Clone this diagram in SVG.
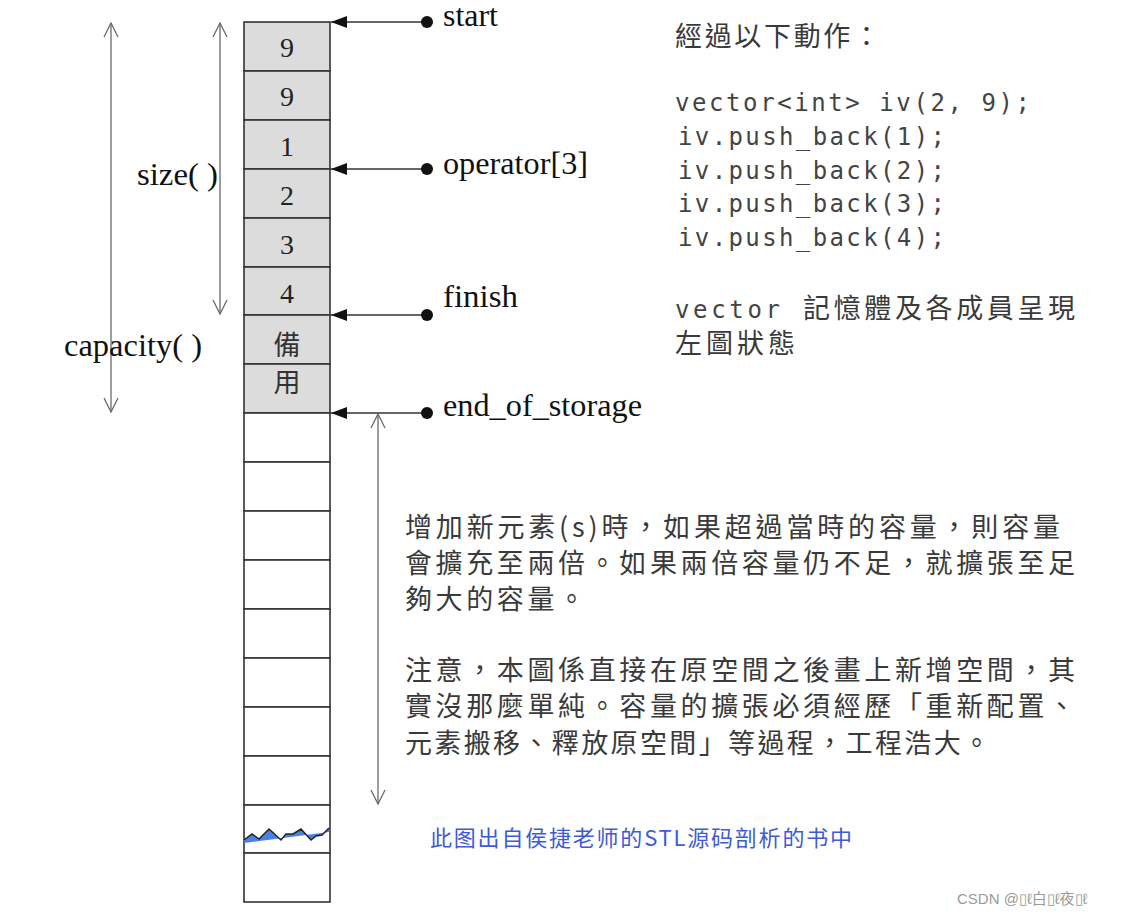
<svg xmlns="http://www.w3.org/2000/svg" width="1122" height="916" viewBox="0 0 1122 916">
<defs>
<style>
.cell{stroke:#333;stroke-width:1.6}
.used{fill:#dcdcdc}
.free{fill:#fff}
.num{font-family:"Liberation Serif",serif;font-size:28px;fill:#222;text-anchor:middle}
.cjkc{font-family:"Noto Sans CJK TC",sans-serif;font-size:27px;fill:#333;text-anchor:middle}
.lbl{font-family:"Liberation Serif",serif;font-size:31px;fill:#111}
.ptr{stroke:#333;stroke-width:1.6;fill:none}
.dim{stroke:#6a6a6a;stroke-width:1.3;fill:none}
.code{font-family:"DejaVu Sans Mono",monospace;font-size:24px;fill:#444}
.cjk{font-family:"Noto Sans CJK TC",sans-serif;font-size:27px;fill:#3a3a3a}
.blue{font-family:"Noto Sans CJK SC",sans-serif;font-size:22px;fill:#3d5bd6}
.wm{font-family:"Liberation Sans","Noto Sans CJK SC",sans-serif;font-size:15px;fill:#9a9a9a}
</style>
<marker id="tri" viewBox="0 0 16 12" refX="16" refY="6" markerWidth="16" markerHeight="12" markerUnits="userSpaceOnUse" orient="auto">
<path d="M0,0 L16,6 L0,12 Z" fill="#111"/>
</marker>
<marker id="vs" viewBox="0 0 16 16" refX="15" refY="8" markerWidth="16" markerHeight="16" markerUnits="userSpaceOnUse" orient="auto-start-reverse">
<path d="M1,1 L15,8 L1,15" fill="none" stroke="#6a6a6a" stroke-width="1.3"/>
</marker>
</defs>
<rect width="1122" height="916" fill="#fff"/>

<g id="vector-cells">
<rect class="cell used" x="244" y="22" width="86" height="49"/>
<rect class="cell used" x="244" y="71" width="86" height="49"/>
<rect class="cell used" x="244" y="120" width="86" height="49"/>
<rect class="cell used" x="244" y="169" width="86" height="49"/>
<rect class="cell used" x="244" y="218" width="86" height="49"/>
<rect class="cell used" x="244" y="267" width="86" height="48"/>
<rect class="cell used" x="244" y="315" width="86" height="49"/>
<rect class="cell used" x="244" y="364" width="86" height="49"/>
<rect class="cell free" x="244" y="413" width="86" height="49"/>
<rect class="cell free" x="244" y="462" width="86" height="49"/>
<rect class="cell free" x="244" y="511" width="86" height="49"/>
<rect class="cell free" x="244" y="560" width="86" height="49"/>
<rect class="cell free" x="244" y="609" width="86" height="49"/>
<rect class="cell free" x="244" y="658" width="86" height="49"/>
<rect class="cell free" x="244" y="707" width="86" height="49"/>
<rect class="cell free" x="244" y="756" width="86" height="49"/>
<rect class="cell free" x="244" y="805" width="86" height="48"/>
<rect class="cell free" x="244" y="853" width="86" height="49"/>
<text class="num" x="287" y="57">9</text>
<text class="num" x="287" y="106">9</text>
<text class="num" x="287" y="156">1</text>
<text class="num" x="287" y="205">2</text>
<text class="num" x="287" y="254">3</text>
<text class="num" x="287" y="303">4</text>
<text class="cjkc" x="287" y="355">備</text>
<text class="cjkc" x="287" y="392">用</text>
<polygon points="244,840 252,834 259,839 269,829 281,840 286,834 293,834 301,829 311,840 316,836 322,835 329,828 329,832 244,843" fill="#4a80e8"/>
<polyline points="244,840 252,834 259,839 269,829 281,840 286,834 293,834 301,829 311,840 316,836 322,835 329,828" fill="none" stroke="#222" stroke-width="1.5"/>
</g>

<g id="connectors">
<line class="ptr" x1="427" y1="22" x2="331" y2="22" marker-end="url(#tri)"/>
<line class="ptr" x1="427" y1="169" x2="331" y2="169" marker-end="url(#tri)"/>
<line class="ptr" x1="427" y1="315" x2="331" y2="315" marker-end="url(#tri)"/>
<line class="ptr" x1="427" y1="413" x2="331" y2="413" marker-end="url(#tri)"/>
<circle cx="427" cy="22" r="6" fill="#111"/>
<circle cx="427" cy="169" r="6" fill="#111"/>
<circle cx="427" cy="315" r="6" fill="#111"/>
<circle cx="427" cy="413" r="6" fill="#111"/>
<line class="dim" x1="111" y1="23" x2="111" y2="412" marker-start="url(#vs)" marker-end="url(#vs)"/>
<line class="dim" x1="220" y1="23" x2="220" y2="314" marker-start="url(#vs)" marker-end="url(#vs)"/>
<line class="dim" x1="378" y1="414" x2="378" y2="804" marker-start="url(#vs)" marker-end="url(#vs)"/>
</g>

<g id="pointer-labels">
<text class="lbl" x="443" y="26" textLength="55" lengthAdjust="spacingAndGlyphs">start</text>
<text class="lbl" x="443" y="174" textLength="145" lengthAdjust="spacingAndGlyphs">operator[3]</text>
<text class="lbl" x="443" y="307" textLength="75" lengthAdjust="spacingAndGlyphs">finish</text>
<text class="lbl" x="443" y="416" textLength="199" lengthAdjust="spacingAndGlyphs">end_of_storage</text>
<text class="lbl" x="137" y="185" textLength="81" lengthAdjust="spacingAndGlyphs">size( )</text>
<text class="lbl" x="64" y="356" textLength="138" lengthAdjust="spacingAndGlyphs">capacity( )</text>
</g>

<g id="code-note">
<text class="cjk" x="675" y="46" textLength="205" lengthAdjust="spacing">經過以下動作：</text>
<text class="code" x="675" y="111" textLength="355" lengthAdjust="spacing" xml:space="preserve">vector&lt;int&gt; iv(2, 9);</text>
<text class="code" x="678" y="145" textLength="267" lengthAdjust="spacing">iv.push_back(1);</text>
<text class="code" x="678" y="179" textLength="267" lengthAdjust="spacing">iv.push_back(2);</text>
<text class="code" x="678" y="212" textLength="267" lengthAdjust="spacing">iv.push_back(3);</text>
<text class="code" x="678" y="246" textLength="267" lengthAdjust="spacing">iv.push_back(4);</text>
<text class="code" x="675" y="318" textLength="105" lengthAdjust="spacing">vector</text>
<text class="cjk" x="803" y="318" textLength="272" lengthAdjust="spacing">記憶體及各成員呈現</text>
<text class="cjk" x="675" y="353" textLength="120" lengthAdjust="spacing">左圖狀態</text>
</g>

<g id="growth-note">
<text class="cjk" x="405" y="537" textLength="655" lengthAdjust="spacing">增加新元素(s)時，如果超過當時的容量，則容量</text>
<text class="cjk" x="405" y="573" textLength="670" lengthAdjust="spacing">會擴充至兩倍。如果兩倍容量仍不足，就擴張至足</text>
<text class="cjk" x="405" y="609" textLength="180" lengthAdjust="spacing">夠大的容量。</text>
<text class="cjk" x="405" y="680" textLength="670" lengthAdjust="spacing">注意，本圖係直接在原空間之後畫上新增空間，其</text>
<text class="cjk" x="405" y="716" textLength="670" lengthAdjust="spacing">實沒那麼單純。容量的擴張必須經歷「重新配置、</text>
<text class="cjk" x="405" y="753" textLength="585" lengthAdjust="spacing">元素搬移、釋放原空間」等過程，工程浩大。</text>
</g>

<g id="caption">
<text class="blue" x="430" y="846" textLength="422" lengthAdjust="spacing">此图出自侯捷老师的STL源码剖析的书中</text>
<text class="wm" x="957" y="904">CSDN @▯ℓ白▯ℓ夜▯ℓ</text>
</g>
</svg>
